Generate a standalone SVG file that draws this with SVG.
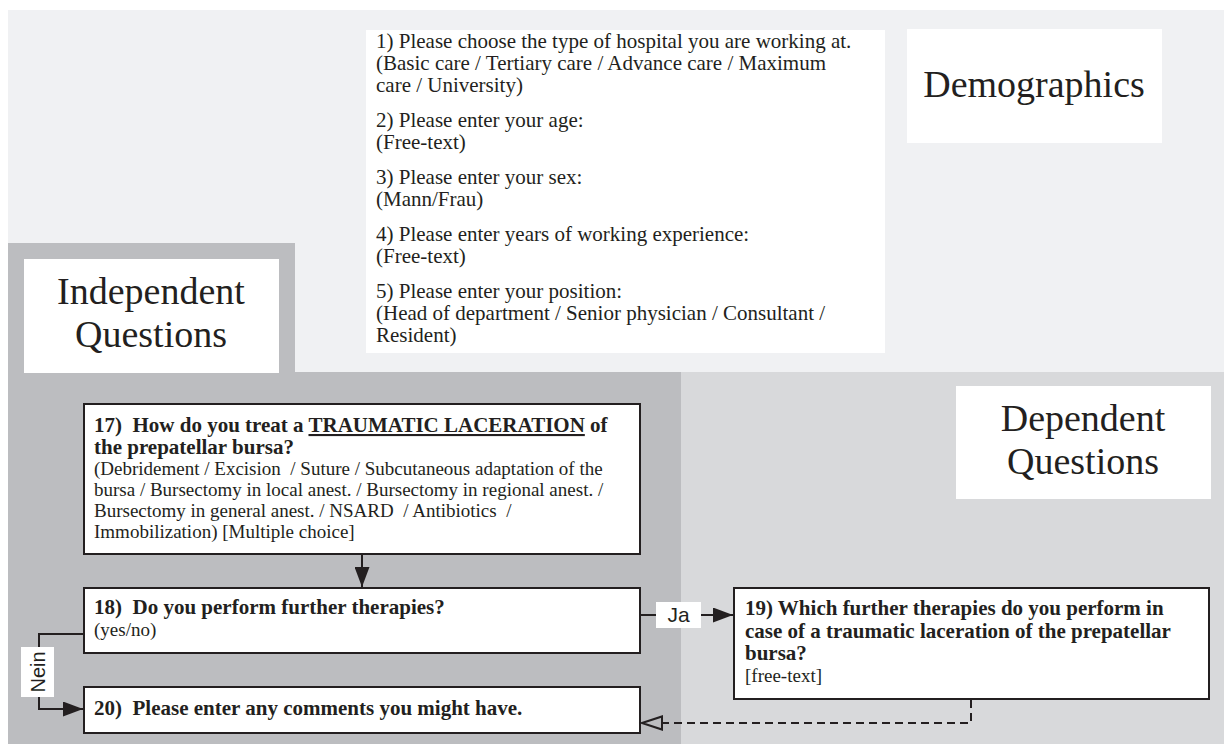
<svg xmlns="http://www.w3.org/2000/svg" width="1224" height="744" viewBox="0 0 1224 744">
<style>
.serif{font-family:"Liberation Serif","Times New Roman",serif;fill:#231f20;white-space:pre}
.sans{font-family:"Liberation Sans",Arial,sans-serif;fill:#231f20}
.q{font-size:21px}
.b{font-weight:bold;font-size:21px}
.n{font-size:19px}
.title{font-size:38px;text-anchor:middle}
.box{fill:#ffffff;stroke:#231f20;stroke-width:2}
.plain{fill:#ffffff}
.con{fill:none;stroke:#231f20;stroke-width:2}
</style>
<defs>
<marker id="arr" markerUnits="userSpaceOnUse" markerWidth="20" markerHeight="15" refX="20" refY="7.5" orient="auto">
<path d="M0,0 L20,7.5 L0,15 z" fill="#231f20"/>
</marker>
</defs>
<rect width="1224" height="744" fill="#ffffff"/>
<!-- background regions -->
<rect x="8" y="10" width="1216" height="362" fill="#f0f1f3"/>
<path d="M8,243 H295 V372 H681 V744 H8 Z" fill="#bcbdc0"/>
<rect x="681" y="372" width="543" height="372" fill="#d8d9db"/>

<g id="demographics-questions">
<rect class="plain" x="366" y="30" width="519" height="323"/>
<text class="serif q" x="376" y="48">1) Please choose the type of hospital you are working at.</text>
<text class="serif q" x="376" y="70">(Basic care / Tertiary care / Advance care / Maximum</text>
<text class="serif q" x="376" y="92">care / University)</text>
<text class="serif q" x="376" y="127">2) Please enter your age:</text>
<text class="serif q" x="376" y="149">(Free-text)</text>
<text class="serif q" x="376" y="184">3) Please enter your sex:</text>
<text class="serif q" x="376" y="206">(Mann/Frau)</text>
<text class="serif q" x="376" y="241">4) Please enter years of working experience:</text>
<text class="serif q" x="376" y="263">(Free-text)</text>
<text class="serif q" x="376" y="298">5) Please enter your position:</text>
<text class="serif q" x="376" y="320">(Head of department / Senior physician / Consultant /</text>
<text class="serif q" x="376" y="342">Resident)</text>
</g>

<g id="demographics-label">
<rect class="plain" x="907" y="29" width="255" height="114"/>
<text class="serif title" x="1034" y="97">Demographics</text>
</g>

<g id="independent-label">
<rect class="plain" x="24" y="259" width="255" height="114"/>
<text class="serif title" x="151" y="304">Independent</text>
<text class="serif title" x="151" y="347">Questions</text>
</g>

<g id="dependent-label">
<rect class="plain" x="956" y="386" width="255" height="113"/>
<text class="serif title" x="1083" y="431">Dependent</text>
<text class="serif title" x="1083" y="474">Questions</text>
</g>

<g id="q17">
<rect class="box" x="84" y="404" width="556" height="150"/>
<text class="serif b" x="94" y="432">17)  How do you treat a <tspan text-decoration="underline">TRAUMATIC LACERATION</tspan> of</text>
<text class="serif b" x="94" y="454">the prepatellar bursa?</text>
<text class="serif n" x="94" y="475">(Debridement / Excision  / Suture / Subcutaneous adaptation of the</text>
<text class="serif n" x="94" y="496">bursa / Bursectomy in local anest. / Bursectomy in regional anest. /</text>
<text class="serif n" x="94" y="517">Bursectomy in general anest. / NSARD  / Antibiotics  /</text>
<text class="serif n" x="94" y="538">Immobilization) [Multiple choice]</text>
</g>

<g id="q18">
<rect class="box" x="84" y="588" width="556" height="65"/>
<text class="serif b" x="94" y="614">18)  Do you perform further therapies?</text>
<text class="serif n" x="94" y="636">(yes/no)</text>
</g>

<g id="q20">
<rect class="box" x="84" y="687" width="556" height="46"/>
<text class="serif b" x="94" y="715">20)  Please enter any comments you might have.</text>
</g>

<g id="q19">
<rect class="box" x="734" y="588" width="475" height="111"/>
<text class="serif b" x="745" y="615">19) Which further therapies do you perform in</text>
<text class="serif b" x="745" y="638">case of a traumatic laceration of the prepatellar</text>
<text class="serif b" x="745" y="660">bursa?</text>
<text class="serif n" x="745" y="682">[free-text]</text>
</g>

<g id="connectors">
<line class="con" x1="362" y1="555" x2="362" y2="587" marker-end="url(#arr)"/>
<line class="con" x1="641" y1="615" x2="656" y2="615"/>
<line class="con" x1="701" y1="615" x2="733" y2="615" marker-end="url(#arr)"/>
<rect class="plain" x="656" y="602" width="45" height="26"/>
<text class="sans" x="678.5" y="622" font-size="21" text-anchor="middle">Ja</text>
<polyline class="con" points="83,634 39,634 39,709 83,709" marker-end="url(#arr)"/>
<rect class="plain" x="21" y="647" width="33" height="50"/>
<text class="sans" transform="translate(45 672) rotate(-90)" x="0" y="0" font-size="20" text-anchor="middle">Nein</text>
<polyline class="con" points="971,700 971,723 662,723" stroke-dasharray="8,5"/>
<polygon points="642,723 662,716.5 662,729.5" fill="#bcbdc0" stroke="#231f20" stroke-width="2"/>
</g>
</svg>
